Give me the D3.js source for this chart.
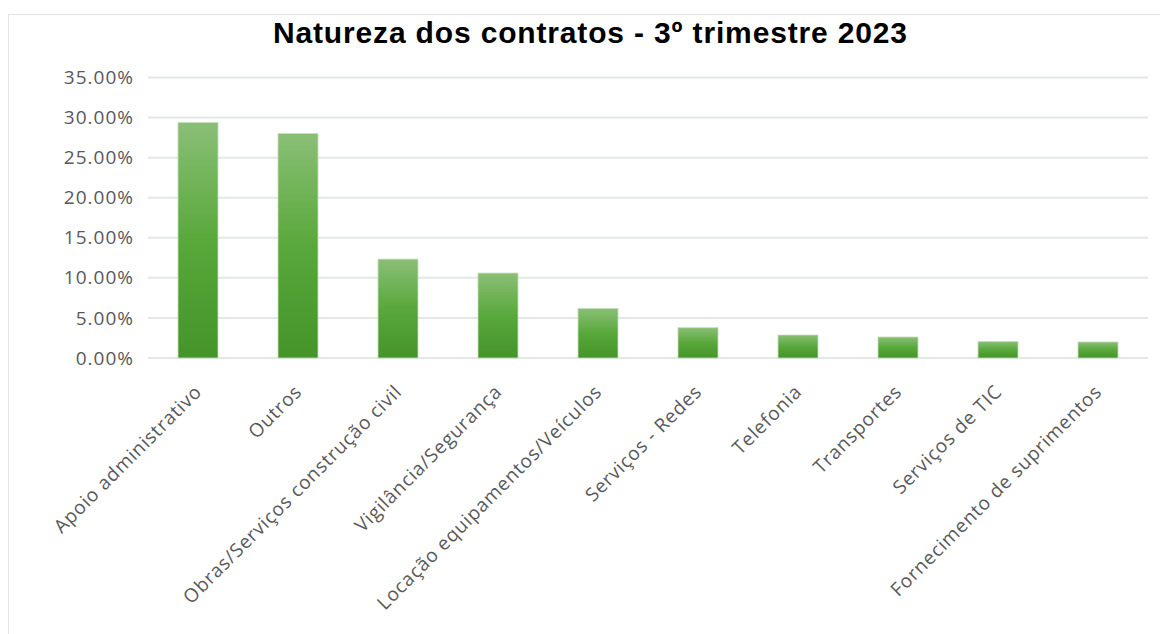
<!DOCTYPE html>
<html>
<head>
<meta charset="utf-8">
<script src="https://cdn.jsdelivr.net/npm/d3@7"></script>
<style>
  body { margin: 0; background: #fff; }
  svg { display: block; }
</style>
</head>
<body>
<div id="graph"></div>
<script>
const title = "Natureza dos contratos - 3º trimestre 2023";
const categories = [
  "Apoio administrativo",
  "Outros",
  "Obras/Serviços construção civil",
  "Vigilância/Segurança",
  "Locação equipamentos/Veículos",
  "Serviços - Redes",
  "Telefonia",
  "Transportes",
  "Serviços de TIC",
  "Fornecimento de suprimentos"
];
const values = [0.2938, 0.2800, 0.1234, 0.1060, 0.0618, 0.0378, 0.0287, 0.0262, 0.0207, 0.0200];
const yTicks = [0, 0.05, 0.10, 0.15, 0.20, 0.25, 0.30, 0.35];

const width = 1160;
const height = 634;
const margin = { left: 148, right: 12, top: 77.5, bottom: 276 };

const textColor = "#595959";
const gridColor = "#e3e8e6";
const font = "'Open Sans', 'Segoe UI', sans-serif";

let formatPct = d3.format(".2%");

let svg = d3.select('#graph')
  .append('svg')
  .attr('width', width)
  .attr('height', height);

// bar gradient
let defs = svg.append('defs');
let grad = defs.append('linearGradient')
  .attr('id', 'barGrad')
  .attr('x1', 0).attr('y1', 0)
  .attr('x2', 0).attr('y2', 1);
grad.append('stop').attr('offset', '0%').attr('stop-color', '#8abf76');
grad.append('stop').attr('offset', '50%').attr('stop-color', '#59a83b');
grad.append('stop').attr('offset', '100%').attr('stop-color', '#44942a');

// chart border
svg.append('rect')
  .attr('x', 8.5)
  .attr('y', 14.5)
  .attr('width', width)
  .attr('height', height)
  .attr('fill', 'none')
  .attr('stroke', '#e2e6e4')
  .attr('stroke-width', 1);

let xScale = d3.scaleBand()
  .domain(categories)
  .range([margin.left, width - margin.right])
  .paddingInner(0.6)
  .paddingOuter(0.3);

let yScale = d3.scaleLinear()
  .domain([0, 0.35])
  .range([height - margin.bottom, margin.top]);

// grid lines
svg.append('g')
  .attr('class', 'grid')
  .selectAll('line')
  .data(yTicks)
  .enter()
  .append('line')
  .attr('x1', margin.left)
  .attr('x2', width - margin.right)
  .attr('y1', d => yScale(d))
  .attr('y2', d => yScale(d))
  .attr('stroke', gridColor)
  .attr('stroke-width', 2);

// y axis
let yAxis = d3.axisLeft(yScale)
  .tickValues(yTicks)
  .tickFormat(d => formatPct(d))
  .tickSize(0)
  .tickPadding(14);

let yG = svg.append('g')
  .attr('transform', `translate(${margin.left}, 0)`)
  .call(yAxis);
yG.select('.domain').remove();
yG.selectAll('text')
  .attr('fill', textColor)
  .style('font-family', font)
  .style('font-size', '19px')
  .style('letter-spacing', '1px');

// bars
svg.append('g')
  .attr('class', 'bars')
  .selectAll('rect')
  .data(values)
  .enter()
  .append('rect')
  .attr('x', (d, i) => xScale(categories[i]))
  .attr('y', d => yScale(d))
  .attr('width', xScale.bandwidth())
  .attr('height', d => yScale(0) - yScale(d))
  .attr('fill', 'url(#barGrad)')
  .attr('stroke', '#c4dfb8')
  .attr('stroke-width', 0.8);

// x axis labels
let xAxis = d3.axisBottom(xScale)
  .tickSize(0)
  .tickPadding(0);

let xG = svg.append('g')
  .attr('transform', `translate(0, ${yScale(0)})`)
  .call(xAxis);
xG.select('.domain').remove();
xG.selectAll('text')
  .attr('fill', textColor)
  .attr('text-anchor', 'end')
  .attr('dy', 0)
  .attr('y', 0)
  .attr('transform', 'translate(5, 35) rotate(-45)')
  .style('font-family', font)
  .style('font-size', '19px')
  .style('letter-spacing', '0.8px');

// title
svg.append('text')
  .attr('x', 590)
  .attr('y', 43)
  .attr('text-anchor', 'middle')
  .attr('fill', '#000')
  .attr('textLength', 634)
  .attr('lengthAdjust', 'spacing')
  .style('font-family', "'Liberation Sans', Arial, sans-serif")
  .style('font-weight', 'bold')
  .style('font-size', '30px')
  .text(title);
</script>
</body>
</html>
